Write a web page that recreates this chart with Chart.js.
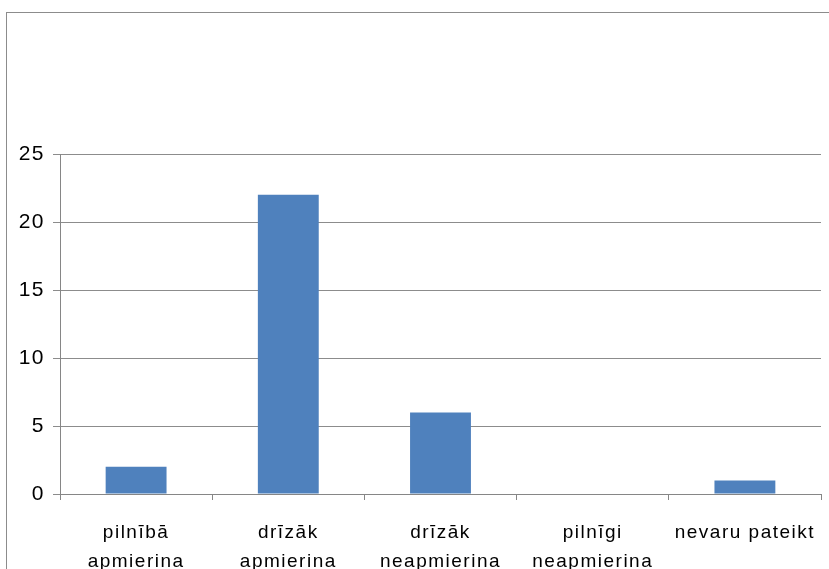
<!DOCTYPE html>
<html>
<head>
<meta charset="utf-8">
<script src="https://cdn.jsdelivr.net/npm/chart.js@4"></script>
<style>
html,body{margin:0;padding:0;background:#fff;}
#wrap{width:829px;height:569px;position:relative;}
</style>
</head>
<body>
<div id="wrap"><canvas id="c" width="829" height="569"></canvas></div>
<script>
const categories = [
  ['pilnībā', 'apmierina'],
  ['drīzāk', 'apmierina'],
  ['drīzāk', 'neapmierina'],
  ['pilnīgi', 'neapmierina'],
  'nevaru pateikt'
];
const values = [2, 22, 6, 0, 1];
const yTicks = [0, 5, 10, 15, 20, 25];

const frame = {
  id: 'frame',
  beforeDraw(chart) {
    const ctx = chart.ctx;
    ctx.save();
    ctx.fillStyle = '#ffffff';
    ctx.fillRect(0, 0, chart.width, chart.height);
    ctx.strokeStyle = '#8c8c8c';
    ctx.lineWidth = 1;
    ctx.strokeRect(6.5, 12.5, 900, 700);
    ctx.restore();
    ctx.letterSpacing = '1.5px';
  }
};

new Chart(document.getElementById('c'), {
  type: 'bar',
  data: {
    labels: categories,
    datasets: [{
      data: values,
      backgroundColor: '#4f81bd',
      borderWidth: 0,
      barPercentage: 0.4,
      categoryPercentage: 1.0
    }]
  },
  options: {
    responsive: false,
    animation: false,
    layout: { padding: { left: 0, right: 8, top: 154, bottom: 0 } },
    plugins: { legend: { display: false }, tooltip: { enabled: false } },
    scales: {
      x: {
        grid: { drawOnChartArea: false, drawTicks: true, tickLength: 6, color: '#868686', offset: true },
        border: { color: '#868686' },
        ticks: { color: '#000', font: { family: 'Liberation Sans', size: 19, lineHeight: 1.55 }, padding: 18, maxRotation: 0, autoSkip: false },
        afterFit(s) { s.height = 75; }
      },
      y: {
        min: 0, max: 25,
        afterBuildTicks(s) { s.ticks = yTicks.map(v => ({ value: v })); },
        grid: { color: '#8c8c8c', tickLength: 7 },
        border: { color: '#868686' },
        ticks: { color: '#000', font: { family: 'Liberation Sans', size: 21 }, padding: 8 },
        afterFit(s) { s.width = 60; }
      }
    }
  },
  plugins: [frame]
});
</script>
</body>
</html>
